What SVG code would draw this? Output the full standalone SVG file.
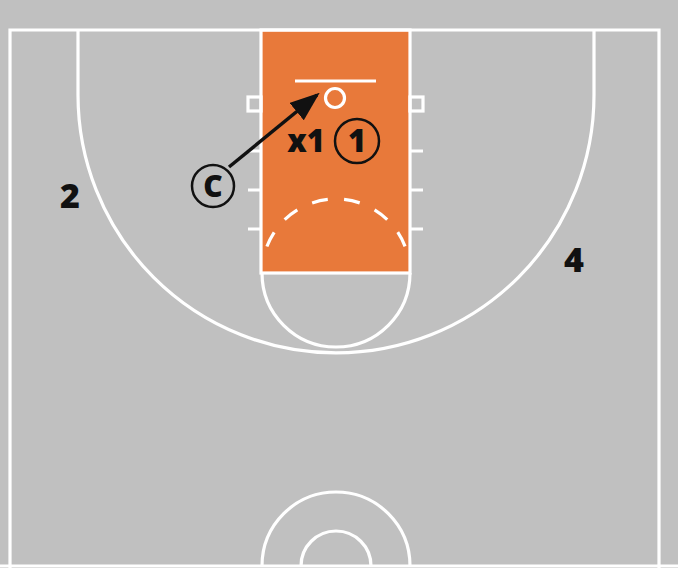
<svg xmlns="http://www.w3.org/2000/svg" width="678" height="568" viewBox="0 0 678 568">
<defs>
<style>
.ln{fill:none;stroke:#ffffff;stroke-width:3.2}
.lbl{font-family:"Open Sans","Liberation Sans",Arial,sans-serif;font-weight:800;fill:#111111;text-anchor:middle}
.ring{fill:none;stroke:#111111;stroke-width:2.5}
</style>
<marker id="ah" markerWidth="8.5" markerHeight="6.4" refX="7.5" refY="3.2" orient="auto" markerUnits="strokeWidth">
<path d="M0,0 L8.5,3.2 L0,6.4 Z" fill="#111111"/>
</marker>
</defs>
<rect width="678" height="568" fill="#c0c0c0"/>
<g id="court">
<rect x="261" y="30" width="149" height="243" fill="#e8793a"/>
<path class="ln" d="M10,600 V30 H659 V600"/>
<path class="ln" d="M78,30 V95 A258 258 0 0 0 594,95 V30"/>
<rect class="ln" x="261" y="30" width="149" height="243"/>
<path class="ln" d="M262,273 A74 74 0 0 0 410,273"/>
<path class="ln" stroke-dasharray="16 16.4" d="M266.9,246.5 A74 74 0 0 1 405.1,246.5"/>
<line class="ln" x1="295" y1="81" x2="376" y2="81"/>
<circle class="ln" cx="335" cy="98" r="9.5"/>
<rect class="ln" x="248" y="97" width="13" height="14"/>
<rect class="ln" x="410" y="97" width="13" height="14"/>
<path class="ln" d="M248,151 H261 M248,190 H261 M248,229 H261 M410,151 H423 M410,190 H423 M410,229 H423"/>
<line class="ln" x1="0" y1="566" x2="678" y2="566"/>
<path class="ln" d="M262,566 A74 74 0 0 1 410,566"/>
<path class="ln" d="M301,566 A35 35 0 0 1 371,566"/>
</g>
<g id="connectors">
<line x1="229" y1="167" x2="317" y2="95" stroke="#111111" stroke-width="3.5" marker-end="url(#ah)"/>
</g>
<g id="node-c">
<circle class="ring" cx="213" cy="186" r="21"/>
<text class="lbl" x="213" y="197" font-size="30">C</text>
</g>
<g id="node-x1">
<text class="lbl" x="306" y="152" font-size="31">x1</text>
</g>
<g id="node-1">
<circle class="ring" cx="357" cy="141" r="22"/>
<text class="lbl" x="357" y="152" font-size="31">1</text>
</g>
<g id="node-2">
<text class="lbl" x="70" y="208" font-size="34">2</text>
</g>
<g id="node-4">
<text class="lbl" x="574" y="272" font-size="34">4</text>
</g>
</svg>
